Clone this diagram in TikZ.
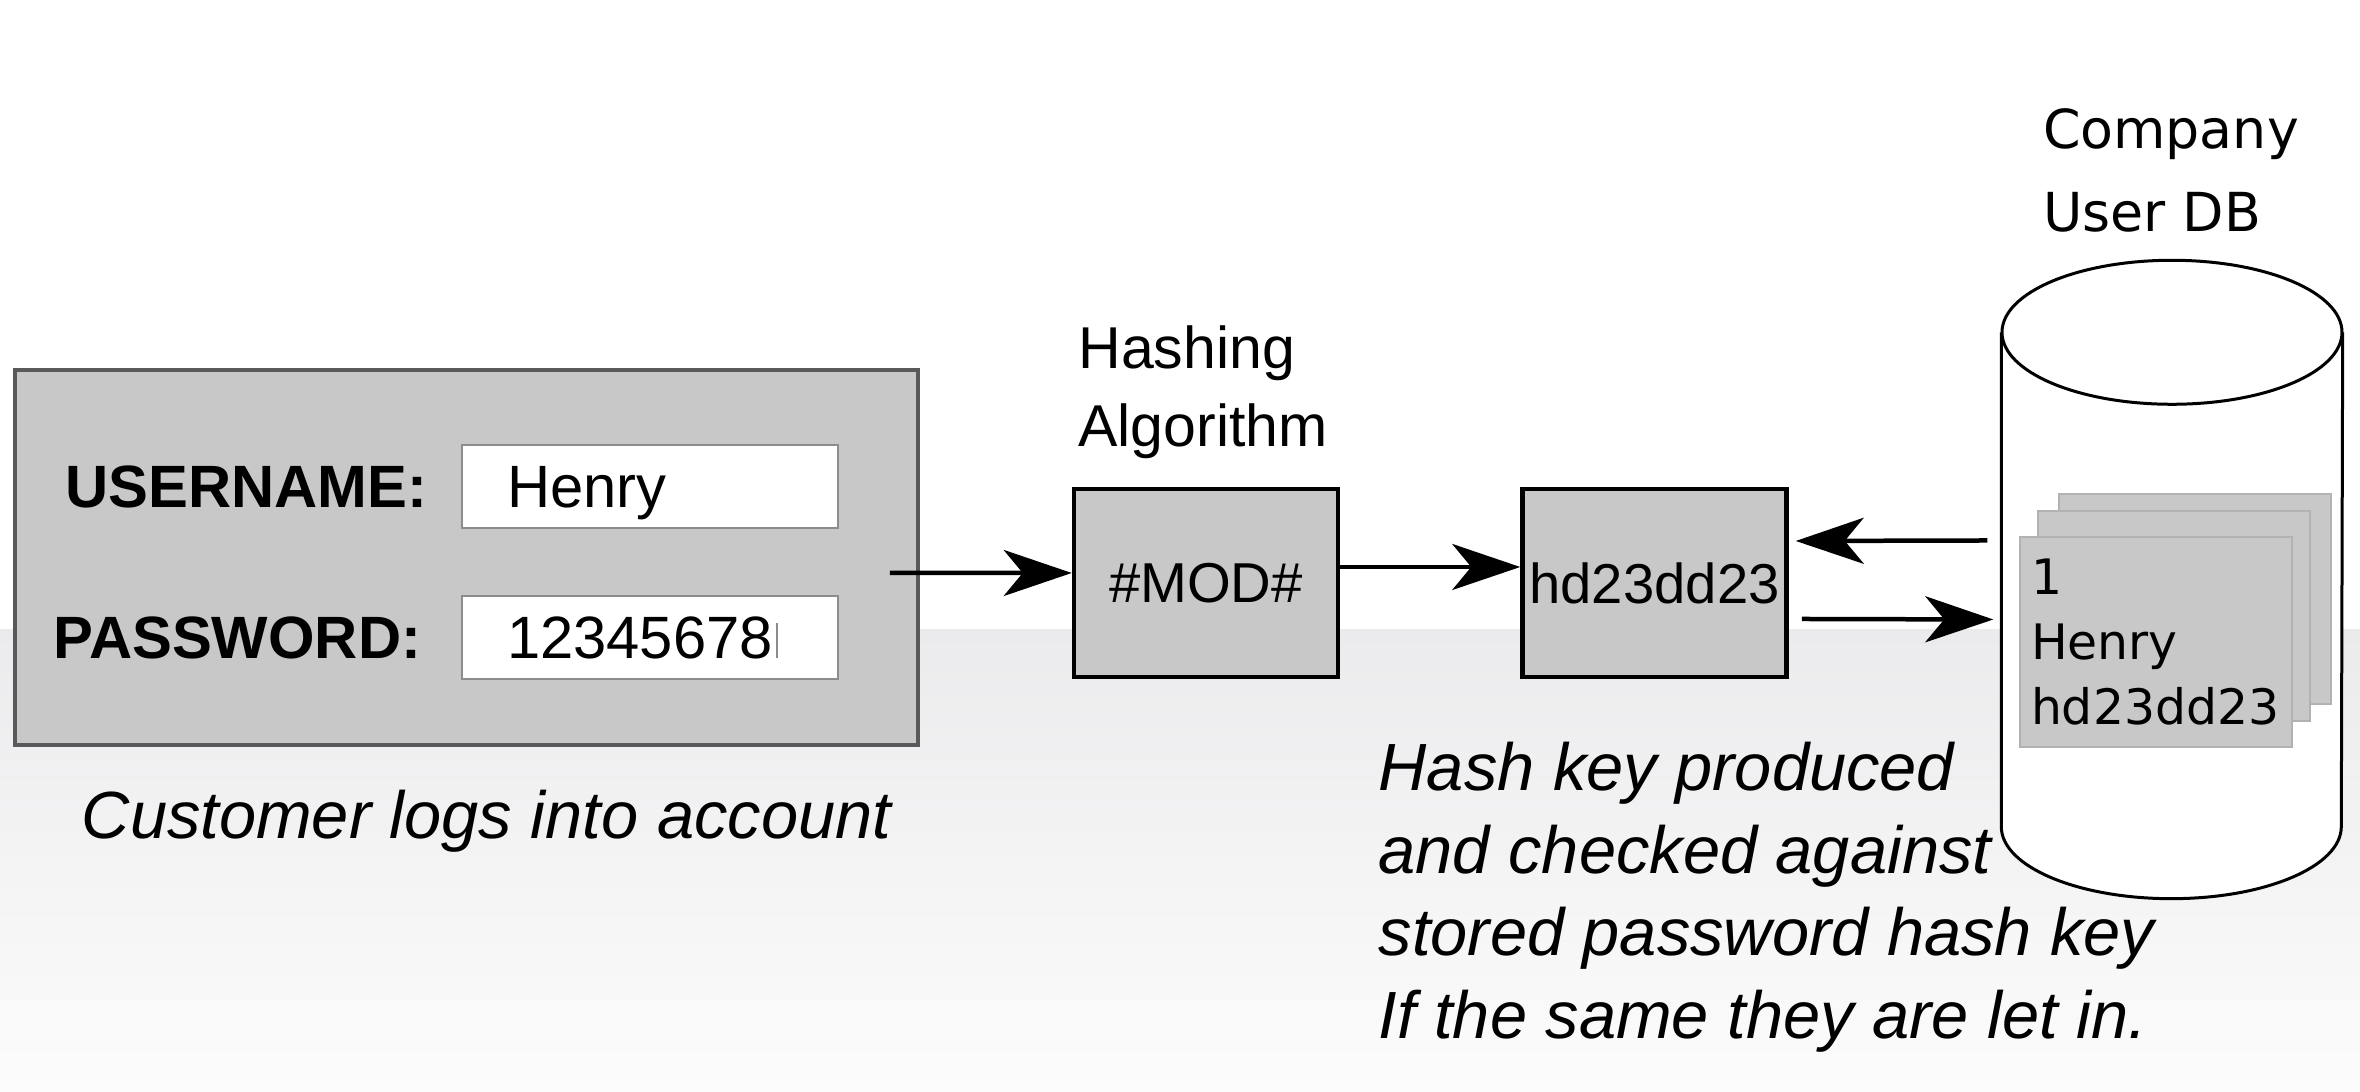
\documentclass[tikz,border=0pt]{standalone}
\usepackage{fontspec}
\setmainfont{Liberation Sans}
\newfontfamily\dbfont{DejaVu Sans}
\usepackage{xcolor}
\usetikzlibrary{positioning,calc,arrows.meta}
\definecolor{panelgrey}{HTML}{C8C8C8}
\definecolor{bandgrey}{HTML}{EBEBED}
\definecolor{bandlow}{HTML}{FCFCFC}

\begin{document}
\begin{tikzpicture}[node distance=1cm,
    hash panel/.style={rectangle, draw=black!65, line width=0.035cm, fill=panelgrey, minimum width=9.03cm, minimum height=3.75cm},
    hash field/.style={rectangle, draw=black!45, line width=0.025cm, fill=white, minimum width=3.76cm, minimum height=0.83cm,
        text width=2.86cm, inner xsep=0.45cm, inner ysep=0, align=left, text depth=0pt, font=\fontsize{17}{20}\selectfont},
    hash label/.style={inner sep=0, font=\fontsize{17}{20}\selectfont\bfseries},
    hash box/.style={rectangle, draw=black, line width=0.045cm, fill=panelgrey, minimum width=2.64cm, minimum height=1.88cm,
        inner sep=0, font=\fontsize{16}{19}\selectfont},
    hash card/.style={rectangle, draw=black!30, line width=0.02cm, fill=panelgrey, minimum width=2.72cm, minimum height=2.1cm},
    hash arrow/.style={-{Stealth[length=0.68cm, width=0.46cm, inset=0.19cm]}, line width=0.045cm},
    hash note/.style={inner sep=0, align=left, font=\fontsize{19}{23.6}\selectfont\itshape},
    db line/.style={line width=0.03cm}]

    \useasboundingbox (0,0) rectangle (23.6,10.92);
    \fill[white] (0,0) rectangle (23.6,10.92);
    \shade[top color=bandgrey, bottom color=bandlow] (0,0) rectangle (23.6,4.62);

    \node [hash panel] (login) at (4.665,5.345) {};
    \node [hash field] (userfield) at (6.50,6.055) {Henry};
    \node [hash field] (passfield) at (6.50,4.545) {12345678\hspace{0.03cm}{\color{black!45}\rule{0.02cm}{0.35cm}}};
    \node [hash label, left=0.33cm of userfield] (userlabel) {USERNAME:};
    \node [hash label, left=0.39cm of passfield] (passlabel) {PASSWORD:};
    \node [hash note, anchor=base west] (logincap) at ([shift={(0.68,-0.92)}]login.south west) {Customer logs into account};

    \node [hash box] (mod) at (12.06,5.09) {\#MOD\#};
    \node [hash box, right=1.80cm of mod] (hd) {hd23dd23};
    \node [inner sep=0, align=left, font=\fontsize{16.8}{22.2}\selectfont, above right=0.27cm and 0.06cm of mod.north west] (hashlabel) {Hashing\\Algorithm};

    \node [minimum width=3.40cm, minimum height=4.93cm, inner sep=0] (db) at (21.72,5.125) {};
    \fill[white] (db.north west) -- (db.south west) arc[start angle=180, end angle=360, x radius=1.70, y radius=0.72]
        -- (db.north east) arc[start angle=0, end angle=180, x radius=1.70, y radius=0.72] -- cycle;
    \draw[db line] (db.north west) -- (db.south west) arc[start angle=180, end angle=360, x radius=1.70, y radius=0.72] -- (db.north east);
    \draw[db line] (db.north) ellipse [x radius=1.70, y radius=0.72];
    \node [inner sep=0, align=left, font=\dbfont\fontsize{15.3}{23.6}\selectfont, above right=0.99cm and 0.41cm of db.north west] (dblabel) {Company\\User DB};

    \node [hash card] (card3) at (21.95,4.925) {};
    \node [hash card] (card2) at (21.735,4.755) {};
    \node [hash card, text width=2.5cm, inner xsep=0.11cm, align=left, font=\dbfont\fontsize{13.9}{18.5}\selectfont] (card1) at (21.56,4.495) {1\\Henry\\hd23dd23};

    \node [hash note, anchor=north west] (hashcap) at (13.78,3.51) {Hash key produced\\and checked against\\stored password hash key\\If the same they are let in.};

    \draw [hash arrow] ([shift={(-0.30,-0.155)}]login.east) -- ([yshift=0.10cm]mod.west);
    \draw [hash arrow] ([yshift=0.16cm]mod.east) -- ([yshift=0.16cm]hd.west);
    \draw [hash arrow] ([shift={(-0.14,0.39)}]db.west) -- ([shift={(0.07,0.42)}]hd.east);
    \draw [hash arrow] ([shift={(0.13,-0.36)}]hd.east) -- ([shift={(-0.08,-0.40)}]db.west);
\end{tikzpicture}
\end{document}
